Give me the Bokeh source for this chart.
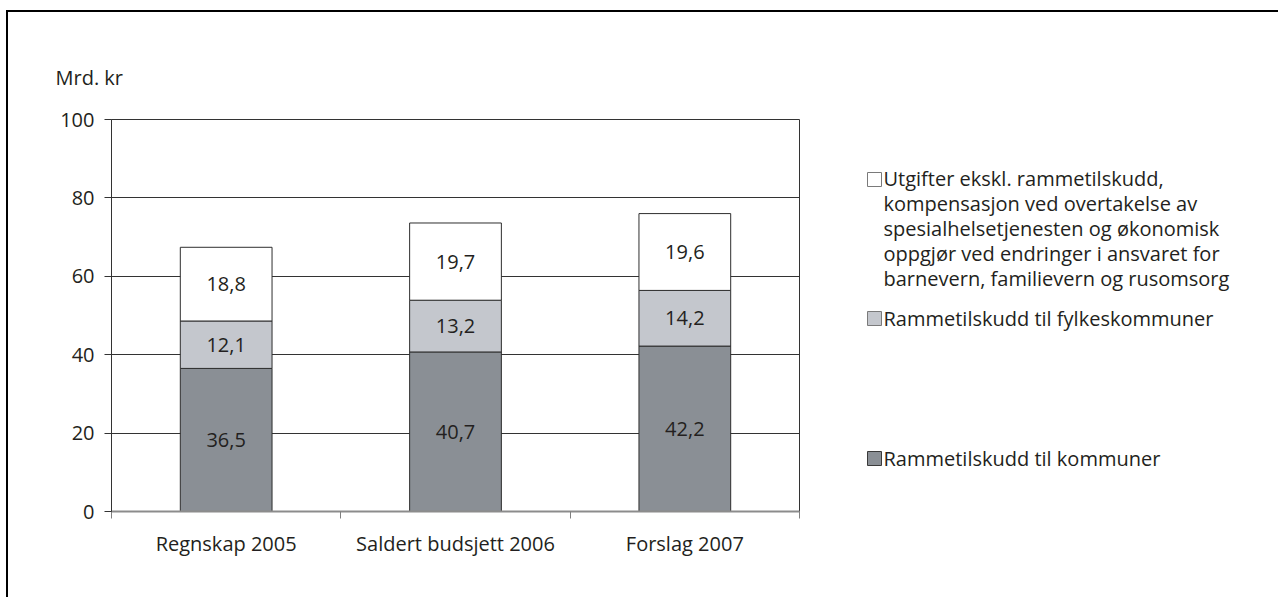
from bokeh.plotting import figure
from bokeh.layouts import row
from bokeh.models import Range1d, FixedTicker, ColumnDataSource
from bokeh.core.properties import value
from bokeh.embed import file_html
from bokeh.resources import INLINE

categories = ["Regnskap 2005", "Saldert budsjett 2006", "Forslag 2007"]
kommuner = [36.5, 40.7, 42.2]
fylkeskommuner = [12.1, 13.2, 14.2]
utgifter = [18.8, 19.7, 19.6]
y_ticks = [0, 20, 40, 60, 80, 100]
y_unit = "Mrd. kr"
legend_labels = [
    "Utgifter ekskl. rammetilskudd,\nkompensasjon ved overtakelse av\nspesialhelsetjenesten og økonomisk\noppgjør ved endringer i ansvaret for\nbarnevern, familievern og rusomsorg",
    "Rammetilskudd til fylkeskommuner",
    "Rammetilskudd til kommuner",
]

FONT = "Open Sans"
TXT = "#231f20"
FS = "20px"
H = 585

series = ["kommuner", "fylkeskommuner", "utgifter"]
colors = ["#8a8f95", "#c4c7cd", "#ffffff"]

xs = [i + 0.5 for i in range(len(categories))]
src = ColumnDataSource(dict(x=xs, kommuner=kommuner, fylkeskommuner=fylkeskommuner,
                            utgifter=utgifter))

p = figure(width=802, height=H, output_backend="svg", toolbar_location=None,
           x_range=Range1d(0, len(categories)), y_range=Range1d(0, 100),
           min_border_left=103, min_border_right=11, min_border_top=107,
           min_border_bottom=86)
p.outline_line_color = "#333333"
p.background_fill_color = "white"
p.border_fill_color = "white"

rs = p.vbar_stack(series, x="x", width=0.4, source=src, fill_color=colors,
                  line_color="#2e2e2e", line_width=1)

# value labels
vals = [kommuner, fylkeskommuner, utgifter]
for k in range(len(vals)):
    lab_y, lab_t = [], []
    for i in range(len(categories)):
        base = sum(vals[j][i] for j in range(k))
        lab_y.append(base + vals[k][i] / 2)
        lab_t.append(f"{vals[k][i]:.1f}".replace(".", ","))
    p.text(x=xs, y=lab_y, text=lab_t, text_align="center", text_baseline="middle",
           text_font=value(FONT), text_font_size=FS, text_color=TXT)

# axes
p.xaxis.ticker = FixedTicker(ticks=xs, minor_ticks=list(range(len(categories) + 1)))
p.xaxis.major_label_overrides = {x: c for x, c in zip(xs, categories)}
p.xaxis.major_tick_out = 0
p.xaxis.major_tick_in = 0
p.xaxis.minor_tick_out = 7
p.xaxis.minor_tick_in = 0
p.xaxis.minor_tick_line_color = "#7f7f7f"
p.xaxis.axis_line_color = "#8c8c8c"
p.xaxis.axis_line_width = 2
p.xaxis.major_label_standoff = 11

p.yaxis.ticker = FixedTicker(ticks=y_ticks)
p.yaxis.major_tick_out = 7
p.yaxis.major_tick_in = 0
p.yaxis.minor_tick_line_color = None
p.yaxis.axis_line_color = "#333333"
p.yaxis.major_tick_line_color = "#333333"
p.yaxis.major_label_standoff = 10

for ax in (p.xaxis, p.yaxis):
    ax.major_label_text_font = FONT
    ax.major_label_text_font_size = FS
    ax.major_label_text_color = TXT

p.xgrid.grid_line_color = None
p.ygrid.ticker = FixedTicker(ticks=y_ticks)
p.ygrid.grid_line_color = "#333333"
p.ygrid.grid_line_width = 1

p.title.text = y_unit
p.title.align = "left"
p.title.offset = -56
p.title.text_font = FONT
p.title.text_font_size = FS
p.title.text_font_style = "normal"
p.title.text_color = TXT
p.title.standoff = 57

# legend panel: its frame is aligned with the main frame (page y 119..511),
# so ranges are given in page pixel coordinates
LW = 468
q = figure(width=LW, height=H, output_backend="svg", toolbar_location=None,
           x_range=Range1d(810, 810 + LW), y_range=Range1d(511, 119),
           x_axis_type=None, y_axis_type=None,
           min_border_left=0, min_border_right=0, min_border_top=107,
           min_border_bottom=86)
q.grid.visible = False
q.outline_line_color = None
q.background_fill_color = "white"
q.border_fill_color = "white"

leg_colors = [colors[2], colors[1], colors[0]]
leg_lines = ["#7a7a7a", "#7a7a7a", "#3a3a3a"]
sq_y = [179, 318, 458]
txt_y = [228, 318, 458]
for lab, c, lc, sy, ty in zip(legend_labels, leg_colors, leg_lines, sq_y, txt_y):
    q.scatter(x=[874], y=[sy], marker="square", size=14, fill_color=c,
              line_color=lc, line_width=1)
    q.text(x=[883], y=[ty], text=[lab], text_align="left", text_baseline="middle",
           text_font=value(FONT), text_font_size=FS, text_color=TXT,
           text_line_height=0.92)

layout = row(p, q)
layout.styles = {"border-left": "2px solid black", "border-top": "2px solid black",
                 "margin-left": "6px", "margin-top": "10px"}

open("out.html", "w").write(file_html(layout, INLINE))
